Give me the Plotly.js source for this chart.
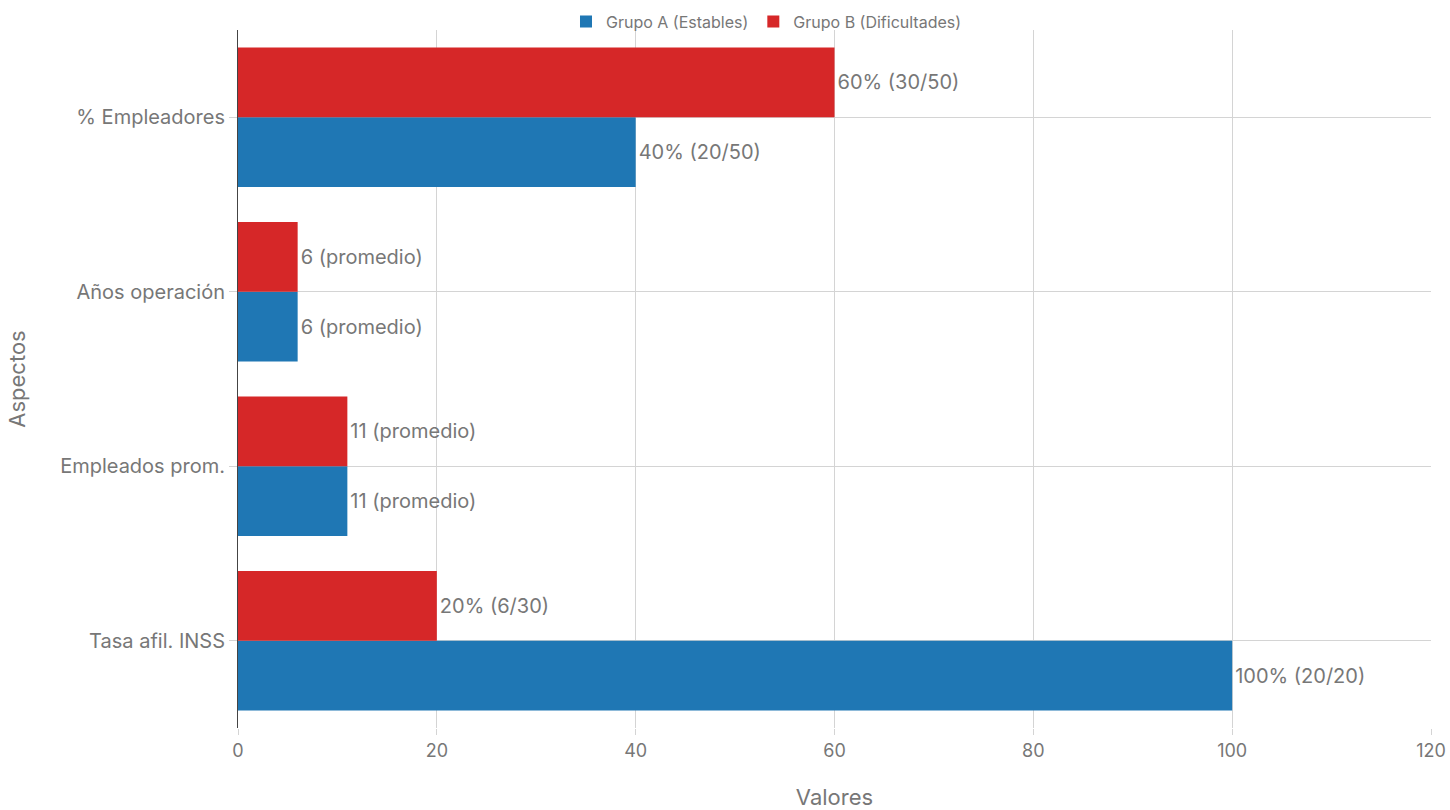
<!DOCTYPE html>
<html>
<head>
<meta charset="utf-8">
<script src="https://cdn.plot.ly/plotly-3.0.1.min.js"></script>
<style>html,body{margin:0;padding:0;background:#fff;}#chart{width:1450px;height:810px;}</style>
</head>
<body>
<div id="chart"></div>
<script>
const categories = ["Tasa afil. INSS", "Empleados prom.", "Años operación", "% Empleadores"];
const grupoA = [100, 11, 6, 40];
const grupoB = [20, 11, 6, 60];
const labelsA = ["100% (20/20)", "11 (promedio)", "6 (promedio)", "40% (20/50)"];
const labelsB = ["20% (6/30)", "11 (promedio)", "6 (promedio)", "60% (30/50)"];
const xTicks = [0, 20, 40, 60, 80, 100, 120];

const fontFam = "Inter, 'Liberation Sans', Arial, sans-serif";
const gray = "#777777";

const traces = [
  {type: "bar", orientation: "h", name: "Grupo A (Estables)", y: categories, x: grupoA,
   text: labelsA, textposition: "outside", marker: {color: "#1f77b4"},
   textfont: {size: 20, color: gray, family: fontFam}, cliponaxis: false},
  {type: "bar", orientation: "h", name: "Grupo B (Dificultades)", y: categories, x: grupoB,
   text: labelsB, textposition: "outside", marker: {color: "#d62728"},
   textfont: {size: 20, color: gray, family: fontFam}, cliponaxis: false}
];

const layout = {
  width: 1450, height: 810,
  margin: {l: 238, r: 19, t: 30, b: 82, autoexpand: false},
  barmode: "group", bargap: 0.2, bargroupgap: 0,
  paper_bgcolor: "#fff", plot_bgcolor: "#fff",
  font: {family: fontFam, color: gray, size: 18},
  showlegend: true,
  legend: {orientation: "h", x: 0.443, xanchor: "center", y: 1.012, yanchor: "middle",
           font: {size: 16, color: gray}, bgcolor: "rgba(0,0,0,0)", itemwidth: 30},
  xaxis: {range: [0, 120], tickvals: xTicks, ticktext: xTicks.map(String),
          showgrid: true, gridcolor: "#d4d4d4", gridwidth: 1, zeroline: false,
          ticks: "outside", ticklen: 6, tickcolor: "#d4d4d4",
          tickfont: {size: 18, color: gray},
          title: {text: "Valores", font: {size: 22, color: gray}, standoff: 30},
          showline: false, automargin: false},
  yaxis: {type: "category", showgrid: true, gridcolor: "#d4d4d4", gridwidth: 1,
          ticks: "outside", ticklen: 8, tickcolor: "#d4d4d4",
          tickfont: {size: 20, color: gray},
          showline: true, linecolor: "#444", linewidth: 1, automargin: false,
          title: {text: "Aspectos", font: {size: 22, color: gray}, standoff: 28}}
};

Plotly.newPlot("chart", traces, layout, {displayModeBar: false});
</script>
</body>
</html>
